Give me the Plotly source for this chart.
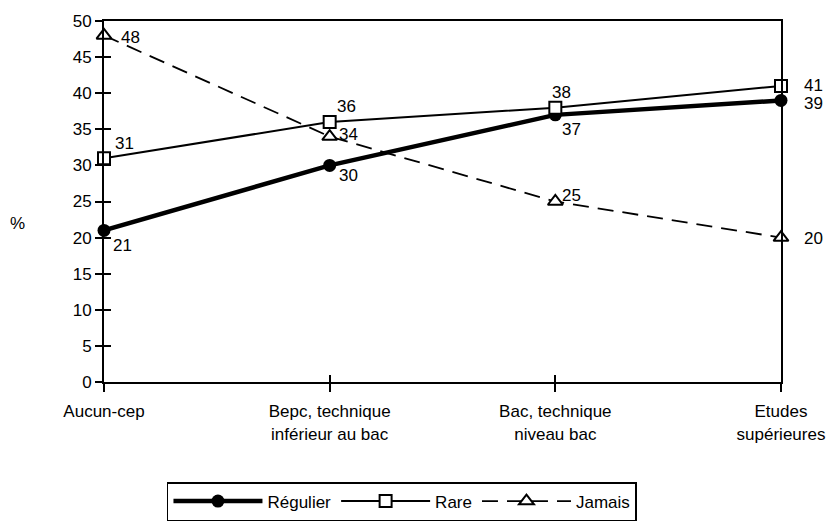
import plotly.graph_objects as go

# Niveau de diplôme (axe des abscisses)
categories = [
    "Aucun-cep",
    "Bepc, technique<br>inférieur au bac",
    "Bac, technique<br>niveau bac",
    "Etudes<br>supérieures",
]
positions = [0, 1, 2, 3]

# Fréquence de pratique, en %
regulier = [21, 30, 37, 39]
rare = [31, 36, 38, 41]
jamais = [48, 34, 25, 20]

FONT = "Liberation Sans, Arial, sans-serif"
fs = 17

fig = go.Figure()

fig.add_trace(go.Scatter(
    x=positions, y=regulier, name="Régulier", mode="lines+markers",
    line=dict(color="black", width=4.5),
    marker=dict(symbol="circle", size=13, color="black"),
    cliponaxis=False,
))
fig.add_trace(go.Scatter(
    x=positions, y=rare, name="Rare", mode="lines+markers",
    line=dict(color="black", width=2),
    marker=dict(symbol="square", size=12, color="white",
                line=dict(color="black", width=2)),
    cliponaxis=False,
))
fig.add_trace(go.Scatter(
    x=positions, y=jamais, name="Jamais", mode="lines+markers",
    line=dict(color="black", width=1.8, dash="16px,9px"),
    marker=dict(symbol="triangle-up", size=13, color="white",
                line=dict(color="black", width=2)),
    cliponaxis=False,
))
# empty trace so the overlay axes (inner tick halves) get drawn
fig.add_trace(go.Scatter(x=[], y=[], xaxis="x2", yaxis="y2",
                         showlegend=False, hoverinfo="skip"))

# value labels: pixel offsets from each point
label_offsets = {
    "regulier": [(18, -15), (19, -10), (16, -15), (32, -3)],
    "rare": [(20, 15), (17, 16), (6, 15), (32, 0)],
    "jamais": [(26, -2), (19, 2), (16, 6), (32, -1)],
}
annotations = []
for key, values in (("regulier", regulier), ("rare", rare), ("jamais", jamais)):
    for xp, v, (dx, dy) in zip(positions, values, label_offsets[key]):
        annotations.append(dict(
            x=xp, y=v, xref="x", yref="y", text=str(v), showarrow=False,
            xshift=dx, yshift=dy, xanchor="center", yanchor="middle",
            font=dict(family=FONT, size=fs, color="black"),
        ))

annotations.append(dict(
    text="%", xref="paper", yref="paper", x=-0.142, y=0.438,
    showarrow=False, font=dict(family=FONT, size=fs, color="black"),
))

axis_common = dict(showgrid=False, zeroline=False, color="black",
                   automargin=False)

fig.update_layout(
    width=832, height=521,
    margin=dict(l=104, r=51, t=21, b=139),
    paper_bgcolor="white", plot_bgcolor="white",
    font=dict(family=FONT, size=fs, color="black"),
    showlegend=True,
    legend=dict(
        orientation="h", xref="paper", yref="container",
        x=0.093, y=1 - 482 / 521, xanchor="left", yanchor="top",
        bordercolor="black", borderwidth=1.5, itemwidth=89,
        font=dict(family=FONT, size=fs, color="black"),
        itemclick=False, tracegroupgap=0,
    ),
    xaxis=dict(
        **axis_common, range=[0, 3], tickmode="array", tickvals=positions,
        ticktext=categories, ticks="outside", ticklen=8, tickwidth=1.5,
        tickcolor="black", showline=True, linewidth=2, linecolor="black",
        mirror=True, tickfont=dict(family=FONT, size=fs),
        ticklabelstandoff=5,
    ),
    yaxis=dict(
        **axis_common, range=[0, 50], tickmode="linear", tick0=0, dtick=5,
        ticks="outside", ticklen=7, tickwidth=1.5, tickcolor="black",
        showline=True, linewidth=2, linecolor="black", mirror=True,
        tickfont=dict(family=FONT, size=fs),
    ),
    xaxis2=dict(
        **axis_common, range=[0, 3], overlaying="x", anchor="y",
        side="bottom", tickmode="array", tickvals=positions,
        ticks="inside", ticklen=7, tickwidth=1.5, tickcolor="black",
        showticklabels=False, showline=False,
    ),
    yaxis2=dict(
        **axis_common, range=[0, 50], overlaying="y", anchor="x",
        side="left", tickmode="linear", tick0=0, dtick=5,
        ticks="inside", ticklen=7, tickwidth=1.5, tickcolor="black",
        showticklabels=False, showline=False,
    ),
    annotations=annotations,
)

fig.write_html("out.html")
